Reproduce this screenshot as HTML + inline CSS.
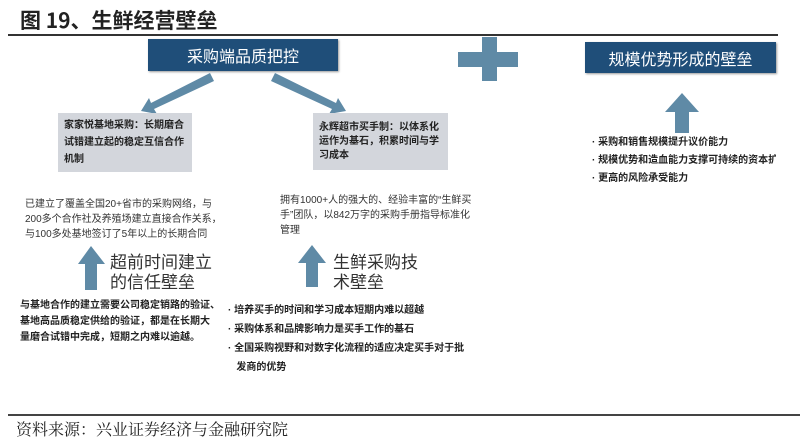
<!DOCTYPE html>
<html><head><meta charset="utf-8"><style>
body{margin:0;width:800px;height:444px;background:#fff;position:relative;overflow:hidden;font-family:"Liberation Sans","Noto Sans CJK SC",sans-serif;color:#222}
.a{position:absolute;white-space:nowrap}
.box{position:absolute;background:#1f4e79;color:#fff;font-size:16px;display:flex;align-items:center;justify-content:center;box-shadow:1px 1px 2px #999}
.gray{position:absolute;background:#d3d6dc;font-size:10px;font-weight:bold;line-height:17px;padding:4px 6px;box-sizing:border-box}
.t{font-size:10px;line-height:15px;color:#333}
.b{font-size:10px;font-weight:bold;line-height:16px}
</style></head><body>
<div class="a" style="left:20px;top:5px;font-size:21px;font-weight:bold;font-family:'Noto Sans CJK SC',sans-serif">图 19、生鲜经营壁垒</div>
<div class="a" style="left:8px;top:34px;width:770px;height:2px;background:#333"></div>
<div class="box" style="left:148px;top:39px;width:190px;height:32px">采购端品质把控</div>
<div class="box" style="left:585px;top:42px;width:191px;height:31px">规模优势形成的壁垒</div>
<div class="a" style="left:458px;top:52px;width:60px;height:15px;background:#5f8aa6"></div>
<div class="a" style="left:482px;top:37px;width:15px;height:44px;background:#5f8aa6"></div>
<svg class="a" style="left:0;top:0" width="800" height="444">
<g fill="#5f8aa6" stroke="none">
<polygon points="210,73 214,81 154,109 157,114 141,111 149,98 151,103"/>
<polygon points="275,73 271,81 332,109 329,114 346,111 338,98 336,103"/>
<polygon points="91,246 105,264 97,264 97,290 85,290 85,264 78,264"/>
<polygon points="312,245 326,263 318,263 318,287 306,287 306,263 298,263"/>
<polygon points="682,93 699,112 689,112 689,133 675,133 675,112 665,112"/>
</g></svg>
<div class="gray" style="left:58px;top:113px;width:134px;height:59px">家家悦基地采购：长期磨合<br>试错建立起的稳定互信合作<br>机制</div>
<div class="gray" style="left:313px;top:113px;width:135px;height:57px;line-height:14px;padding-top:8px">永辉超市买手制：以体系化<br>运作为基石，积累时间与学<br>习成本</div>
<div class="a t" style="left:25px;top:197px">已建立了覆盖全国20+省市的采购网络，与<br>200多个合作社及养殖场建立直接合作关系，<br>与100多处基地签订了5年以上的长期合同</div>
<div class="a t" style="left:280px;top:193px">拥有1000+人的强大的、经验丰富的“生鲜买<br>手”团队，以842万字的采购手册指导标准化<br>管理</div>
<div class="a" style="left:110px;top:253px;font-size:17px;line-height:20px;color:#333">超前时间建立<br>的信任壁垒</div>
<div class="a" style="left:333px;top:253px;font-size:17px;line-height:20px;color:#333">生鲜采购技<br>术壁垒</div>
<div class="a b" style="left:20px;top:298px">与基地合作的建立需要公司稳定销路的验证、<br>基地高品质稳定供给的验证，都是在长期大<br>量磨合试错中完成，短期之内难以逾越。</div>
<div class="a b" style="left:228px;top:301px;line-height:19px">· 培养买手的时间和学习成本短期内难以超越<br>· 采购体系和品牌影响力是买手工作的基石<br>· 全国采购视野和对数字化流程的适应决定买手对于批<br>&nbsp;&nbsp;&nbsp;发商的优势</div>
<div class="a b" style="left:592px;top:134px;line-height:18px;width:184px;overflow:hidden">· 采购和销售规模提升议价能力<br>· 规模优势和造血能力支撑可持续的资本扩<br>· 更高的风险承受能力</div>
<div class="a" style="left:8px;top:414px;width:792px;height:2px;background:#444"></div>
<div class="a" style="left:16px;top:417px;font-size:16px;font-family:'Noto Serif CJK SC',serif;color:#222">资料来源：兴业证券经济与金融研究院</div>
</body></html>
